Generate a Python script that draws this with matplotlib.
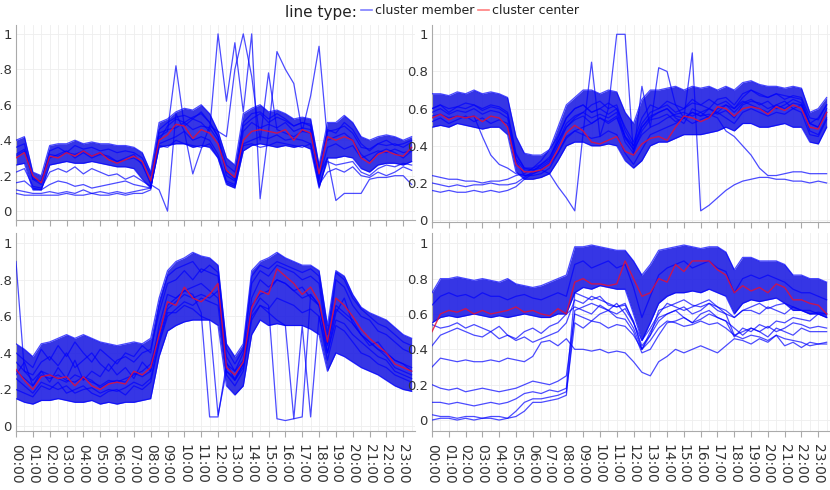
import numpy as np
import matplotlib.pyplot as plt
from matplotlib.lines import Line2D

# half-hour steps 00:00 .. 23:30, values in percent
hours = np.arange(48) * 0.5
tick_labels = ['%02d:00' % h for h in range(24)]

# ---- panel 1 (top left)
p1_center = [30,33,20,16,31,30,33,31, 34,31,33,29,27,29,31,28, 17,40,43,49,48,41,46,44, 38,23,19,40,45,46,45,44, 46,40,46,44,21,42,40,42, 40,30,27,32,34,32,31,36]
p1_hi = [40,42,22,20,37,38,38,40, 38,39,38,38,37,37,36,33, 22,50,52,56,58,57,60,55, 45,30,26,55,58,60,56,57, 55,52,53,52,26,50,50,54, 50,42,40,42,43,42,40,42]
p1_lo = [26,27,12,12,26,27,28,27, 27,28,27,26,25,25,24,18, 13,36,37,38,38,36,37,36, 30,15,13,34,37,38,37,36, 37,36,37,35,13,30,30,31, 30,24,22,26,27,27,26,28]
p1_m1 = [22,24,14,13,22,24,22,25, 21,24,22,20,21,18,20,17, 14,38,40,42,45,40,42,40, 32,17,15,38,40,42,41,43, 40,41,40,38,15,22,24,22, 25,20,19,22,20,22,25,23]
p1_m2 = [12,11,10,10,11,10,11,10, 12,10,11,10,11,10,11,12, 13,37,36,40,38,37,36,38, 30,16,14,37,38,36,37,39, 38,37,36,38,14,28,26,27, 28,22,20,24,26,25,27,26]
p1_m3 = [10,9,9,9,9,9,10,9, 9,10,9,9,10,9,10,10, 12,44,46,47,50,46,48,47, 40,22,18,45,50,47,49,47, 50,45,47,46,18,36,38,35, 37,30,32,34,33,35,33,34]
p1_m4 = [16,17,13,12,15,17,16,14, 15,13,14,15,16,17,15,14, 13,40,48,52,50,53,55,50, 42,20,17,48,52,55,50,53, 51,48,50,48,17,45,46,48, 44,36,35,38,37,38,36,39]
p1_m5 = [36,38,18,17,34,36,33,37, 35,36,34,35,33,34,33,30, 20,46,50,53,54,52,56,50, 42,26,22,50,55,56,52,55, 52,48,50,49,24,46,44,50, 46,38,34,38,40,37,38,40]
p1_o1 = [32,35,18,15,30,32,34,30, 33,30,32,31,28,30,32,26, 16,42,45,82,48,52,50,45, 100,62,95,56,100,7,45,90, 80,72,45,65,93,40,42,44, 40,32,28,33,35,33,30,34]
p1_o2 = [31,34,19,16,32,31,33,32, 34,31,33,30,28,29,30,27, 15,12,0,55,45,21,35,48, 45,42,80,100,76,40,78,46, 44,42,45,44,20,30,6,10, 10,10,18,19,19,20,20,15]

# ---- panel 2 (top right)
p2_center = [55,57,54,56,55,56,53,56, 55,50,30,26,26,27,30,38, 47,51,48,42,41,43,45,37, 35,41,44,45,43,50,56,55, 53,55,61,60,56,60,61,60, 57,61,59,62,60,50,49,58]
p2_hi = [68,68,67,69,68,70,68,69, 68,66,45,36,35,35,38,50, 62,66,70,70,68,70,69,58, 52,65,70,70,71,72,70,72, 71,72,70,72,70,74,75,73, 72,72,71,72,71,58,60,66]
p2_lo = [50,51,50,52,51,50,49,50, 50,46,26,22,22,23,25,32, 40,42,42,40,40,41,40,32, 28,32,40,42,42,44,46,46, 46,47,48,50,48,52,52,50, 50,51,52,50,50,42,41,50]
p2_m1 = [24,23,22,22,21,21,20,21, 21,22,24,25,28,32,38,45, 55,60,62,58,60,63,60,50, 42,55,62,60,64,62,60,63, 62,65,62,64,60,66,70,68, 66,68,67,66,65,52,55,62]
p2_m2 = [16,15,16,15,15,16,15,16, 15,16,18,22,25,27,30,36, 45,48,50,52,55,52,55,45, 38,46,50,52,55,57,58,56, 58,60,57,59,55,62,64,63, 60,62,64,60,62,48,46,55]
p2_m3 = [20,19,18,19,18,19,19,20, 19,19,20,23,26,30,34,42, 50,55,58,62,64,60,62,48, 40,50,56,58,60,55,52,60, 58,55,60,62,58,63,65,62, 64,60,62,65,63,52,50,60]
p2_m4 = [60,62,60,61,63,62,60,62, 61,58,36,28,28,30,33,44, 55,60,62,58,60,57,60,45, 40,52,58,60,62,58,60,65, 62,60,65,66,62,68,70,67, 66,68,65,67,66,55,54,62]
p2_m5 = [53,55,52,54,56,53,55,52, 54,52,32,24,24,25,28,36, 44,48,46,44,45,48,46,36, 30,38,46,48,50,52,55,52, 54,56,58,55,52,58,60,58, 56,58,57,60,58,46,45,54]
p2_o1 = [56,57,55,56,55,56,45,35, 30,28,25,24,25,27,25,18, 12,5,47,85,45,60,100,100, 35,72,50,82,80,62,55,58, 56,60,58,62,60,64,62,60, 58,62,60,63,62,52,50,58]
p2_o2 = [60,62,58,61,60,62,59,61, 60,57,35,28,27,29,32,42, 52,56,58,55,57,55,58,44, 38,50,55,58,60,56,55,90, 5,8,12,16,19,21,22,23, 23,22,22,21,21,20,21,20]
p2_o3 = [58,60,57,59,58,60,57,59, 58,55,33,27,27,28,31,40, 50,54,56,52,55,53,56,42, 36,48,54,55,57,53,55,58, 56,57,55,48,45,40,35,28, 24,24,25,26,26,25,25,25]

# ---- panel 3 (bottom left)
p3_center = [31,25,20,27,28,26,27,22, 27,22,20,23,24,23,30,28, 32,50,68,66,76,70,68,72, 78,32,28,35,65,74,72,86, 82,78,72,76,68,46,70,66, 60,53,48,44,40,34,32,30]
p3_hi = [45,42,38,45,46,48,50,48, 50,48,46,45,44,45,46,45, 48,70,85,90,92,95,93,92, 88,45,38,45,85,90,92,95, 92,90,88,88,85,55,85,82, 72,65,62,60,58,54,50,48]
p3_lo = [15,13,12,14,14,15,14,13, 13,14,12,13,12,13,13,14, 15,38,52,55,57,58,58,58, 55,22,17,22,50,58,55,56, 55,55,55,53,50,30,40,38, 35,32,30,28,25,22,20,19]
p3_m1 = [35,30,28,35,38,33,40,32, 36,40,34,30,36,38,35,40, 42,62,78,80,85,80,86,84, 82,38,30,40,78,85,82,88, 86,84,80,82,78,45,80,76, 66,60,58,52,50,46,42,40]
p3_m2 = [20,18,16,22,20,24,18,20, 22,18,16,19,20,17,22,20, 24,45,60,64,68,66,70,68, 66,28,22,30,58,66,64,70, 68,66,62,64,60,36,55,52, 46,40,38,34,32,28,26,24]
p3_m3 = [28,35,22,30,24,32,26,36, 25,30,27,34,28,32,26,35, 30,55,72,70,74,76,78,74, 70,35,25,34,70,80,76,80, 78,74,76,70,66,40,62,70, 56,50,44,46,40,36,34,32]
p3_m4 = [40,36,32,42,36,44,38,46, 40,35,42,38,34,40,38,44, 40,66,82,86,88,90,84,88, 84,42,34,42,82,88,86,90, 88,86,84,86,82,50,84,80, 70,64,60,56,54,50,46,44]
p3_o1 = [90,30,25,30,28,26,24,28, 26,24,22,25,24,26,28,30, 34,52,66,70,74,72,62,5, 5,34,30,36,66,72,74,80, 78,74,70,72,66,45,66,62, 58,50,46,42,40,36,34,30]
p3_o2 = [30,26,22,28,26,28,25,24, 27,25,21,24,25,24,29,27, 30,48,64,68,72,70,72,70, 74,30,26,34,62,70,66,4, 3,4,5,72,66,44,64,60, 56,50,46,42,38,32,30,28]
p3_o3 = [26,22,18,24,22,20,22,18, 20,21,18,20,19,21,24,22, 26,46,62,62,66,64,60,58, 6,30,25,32,60,66,62,58, 55,4,55,5,60,40,58,56, 50,46,42,38,36,30,28,26]

# ---- panel 4 (bottom right)
p4_center = [50,60,62,61,63,60,62,60, 61,62,64,61,62,60,59,63, 60,78,80,77,77,76,77,90, 80,70,72,80,78,88,84,90, 90,90,85,82,72,76,73,75, 72,77,75,68,68,66,65,60]
p4_hi = [72,80,80,81,80,79,80,79, 78,80,77,76,75,76,78,80, 82,98,98,99,98,97,96,96, 90,82,88,96,97,98,99,98, 97,98,98,95,85,92,92,90, 90,90,88,82,82,80,80,78]
p4_lo = [55,58,59,58,59,60,59,58, 59,58,59,60,59,58,58,60, 60,72,75,74,76,75,74,74, 60,45,55,66,70,72,72,73, 72,74,72,70,60,66,68,67, 68,69,66,62,62,60,60,58]
p4_m1 = [54,52,53,55,52,54,52,50, 53,48,46,50,52,49,53,55, 60,64,62,60,65,62,66,60, 52,40,50,58,60,62,58,55, 60,62,58,56,52,48,52,50, 47,52,50,48,52,50,50,50]
p4_m2 = [30,35,34,33,34,33,33,34, 33,35,34,33,36,44,45,42, 46,40,40,39,40,38,39,38, 33,27,25,33,36,40,38,40, 42,40,38,42,46,45,43,46, 44,48,42,44,41,44,43,43]
p4_m3 = [20,18,17,18,16,17,18,17, 16,17,18,20,22,21,20,22, 25,60,58,56,60,62,58,57, 50,38,40,48,55,56,58,55, 57,60,58,56,47,52,50,54, 52,56,55,58,57,56,60,58]
p4_m4 = [10,10,9,10,9,8,9,10, 9,10,12,15,16,15,17,16, 18,72,70,68,70,65,64,66, 55,45,52,60,66,64,62,64, 66,68,64,62,58,62,64,66, 63,65,66,64,62,60,61,60]
p4_m5 = [3,2,2,1,2,2,1,2, 2,1,5,10,12,12,13,14, 16,55,52,56,55,52,54,53, 48,40,45,52,56,55,53,54, 56,54,55,52,48,50,52,50, 53,50,52,55,54,52,53,52]
p4_m6 = [0,1,1,0,1,0,1,1, 0,1,2,5,10,10,11,12, 14,62,64,66,64,62,60,63, 55,42,48,56,60,62,64,60, 62,66,64,60,58,62,62,60, 64,62,60,64,62,62,60,60]
p4_m7 = [65,70,72,70,71,69,72,70, 70,68,70,71,69,68,70,72, 70,88,90,86,88,90,86,88, 75,58,70,82,86,88,90,86, 88,90,86,84,72,80,82,80, 82,80,78,74,72,72,70,68]
p4_m8 = [42,48,50,52,50,48,47,50, 46,48,45,47,44,46,48,50, 55,68,66,70,68,66,64,65, 56,40,48,62,64,66,68,65, 64,66,62,60,48,46,48,47, 45,48,46,45,44,42,43,44]

W, H = 830, 490
fig = plt.figure(figsize=(8.3, 4.9), dpi=100)


def px_axes(l, t, r, b):
    return fig.add_axes([l / W, 1 - b / H, (r - l) / W, (b - t) / H])


def draw(ax, center, hi, lo, others, ylim, labels):
    # dense core of the cluster, then the individual member lines on top
    ax.fill_between(hours, np.array(lo) / 100, np.array(hi) / 100,
                    color='#2626e4', alpha=0.93, lw=0, zorder=2)
    for line in [hi, lo] + others:
        ax.plot(hours, np.array(line) / 100, color='blue', lw=0.9, alpha=0.7, zorder=3)
    ax.plot(hours, np.array(center) / 100, color='#e0103a', lw=1.0, alpha=0.85, zorder=4)

    ax.set_xlim(0, 23.7)
    ax.set_ylim(*ylim)
    ax.set_axisbelow(True)
    for s in ['top', 'right']:
        ax.spines[s].set_visible(False)
    for s in ['left', 'bottom']:
        ax.spines[s].set_color('#aaaaaa')
        ax.spines[s].set_linewidth(0.8)

    ax.set_yticks([0, 0.2, 0.4, 0.6, 0.8, 1])
    ax.set_yticklabels(['0', '0.2', '0.4', '0.6', '0.8', '1'])
    ax.tick_params(axis='y', length=0, pad=3, labelsize=9.5, labelcolor='#333333')

    ax.set_xticks(range(24))
    ax.set_xticks(hours, minor=True)
    if labels:
        ax.set_xticklabels(tick_labels, rotation=-90, fontsize=10, color='#333333')
    else:
        ax.set_xticklabels([])
    ax.tick_params(axis='x', which='major', length=4, color='#aaaaaa', pad=5)
    ax.tick_params(axis='x', which='minor', length=0)
    ax.grid(True, which='both', axis='x', color='#eeeeee', lw=0.6)
    ax.grid(True, which='major', axis='y', color='#eeeeee', lw=0.6)


ax1 = px_axes(16, 25, 415, 220)
ax2 = px_axes(432, 25, 830, 222)
ax3 = px_axes(16, 233, 415, 431)
ax4 = px_axes(432, 233, 830, 431)

draw(ax1, p1_center, p1_hi, p1_lo, [p1_m1, p1_m2, p1_m3, p1_m4, p1_m5, p1_o1, p1_o2],
     (-0.05, 1.05), False)
draw(ax2, p2_center, p2_hi, p2_lo, [p2_m1, p2_m2, p2_m3, p2_m4, p2_m5, p2_o1, p2_o2, p2_o3],
     (-0.01, 1.05), False)
draw(ax3, p3_center, p3_hi, p3_lo, [p3_m1, p3_m2, p3_m3, p3_m4, p3_o1, p3_o2, p3_o3],
     (-0.027, 1.056), True)
draw(ax4, p4_center, p4_hi, p4_lo, [p4_m1, p4_m2, p4_m3, p4_m4, p4_m5, p4_m6, p4_m7, p4_m8],
     (-0.062, 1.058), True)

# legend at the top: bigger title, smaller entries
fig.text(285 / W, 1 - 12 / H, 'line type:', fontsize=11, va='center', ha='left', color='#222222')
handles = [Line2D([], [], color='blue', alpha=0.5, lw=1.2),
           Line2D([], [], color='red', alpha=0.5, lw=1.2)]
fig.legend(handles, ['cluster member', 'cluster center'], loc='center left',
           bbox_to_anchor=(361 / W, 1 - 11 / H), ncol=2, frameon=False, fontsize=9,
           handlelength=0.9, handletextpad=0.2, columnspacing=0.3,
           borderaxespad=0, borderpad=0, labelcolor='#222222')

fig.savefig('out.png', dpi=100)
